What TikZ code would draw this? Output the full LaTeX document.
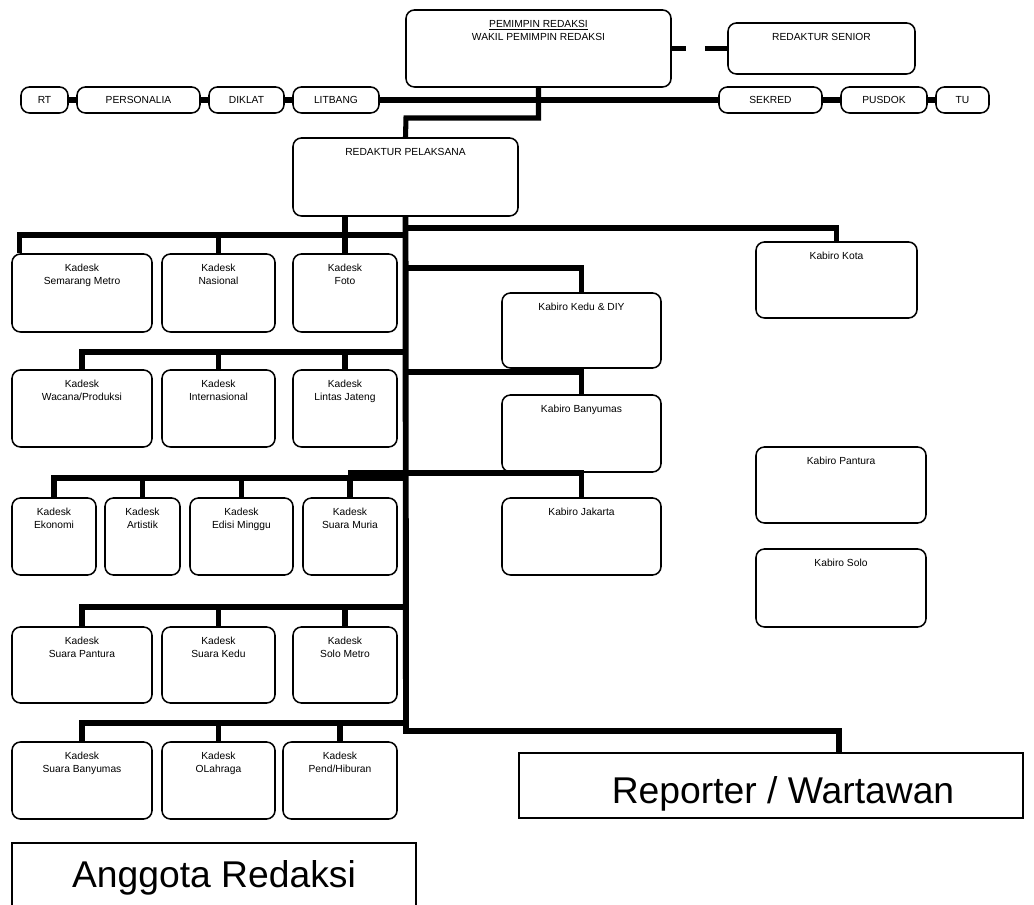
\documentclass[tikz,border=0pt]{standalone}
\usepackage{fontspec}
\setmainfont{Liberation Sans}
\usetikzlibrary{fit}

\begin{document}
\begin{tikzpicture}[
    x=0.025cm, y=-0.025cm,
    unit/.style={draw, line width=1.1pt, rounded corners=6pt, inner sep=0pt},
    caption/.style={anchor=north, inner sep=0pt, yshift=-0.26cm, align=center, font=\fontsize{7.3}{9.2}\selectfont},
    mid/.style={inner sep=0pt, font=\fontsize{7.3}{9.2}\selectfont},
    bigbox/.style={draw, line width=0.8pt, inner sep=0pt},
    bigtext/.style={inner sep=0pt, font=\fontsize{26.5}{30}\selectfont},
    link/.style={line width=3.6pt},
    trunk/.style={line width=4.2pt}
  ]
  \useasboundingbox (0,0) rectangle (1034,905);
  \clip (0,0) rectangle (1034,905);

  % pimpinan
  \node[unit, fit={(406,10) (671,87)}, label={[caption]north:\underline{PEMIMPIN REDAKSI}\\WAKIL PEMIMPIN REDAKSI}] (pemimpin) {};
  \node[unit, fit={(728,23) (915,74)}, label={[caption]north:REDAKTUR SENIOR}] (senior) {};
  \node[unit, fit={(21,87) (68,113)}, label={[mid]center:RT}] (rt) {};
  \node[unit, fit={(77,87) (200,113)}, label={[mid]center:PERSONALIA}] (personalia) {};
  \node[unit, fit={(209,87) (284,113)}, label={[mid]center:DIKLAT}] (diklat) {};
  \node[unit, fit={(293,87) (379,113)}, label={[mid]center:LITBANG}] (litbang) {};
  \node[unit, fit={(719,87) (822,113)}, label={[mid]center:SEKRED}] (sekred) {};
  \node[unit, fit={(841,87) (927,113)}, label={[mid]center:PUSDOK}] (pusdok) {};
  \node[unit, fit={(936,87) (989,113)}, label={[mid]center:TU}] (tu) {};
  \node[unit, fit={(293,138) (518,216)}, label={[caption]north:REDAKTUR PELAKSANA}] (rp) {};

  % kadesk
  \node[unit, fit={(12,254) (152,332)}, label={[caption]north:Kadesk\\Semarang Metro}] (semarang) {};
  \node[unit, fit={(162,254) (275,332)}, label={[caption]north:Kadesk\\Nasional}] (nasional) {};
  \node[unit, fit={(293,254) (397,332)}, label={[caption]north:Kadesk\\Foto}] (foto) {};
  \node[unit, fit={(12,370) (152,447)}, label={[caption]north:Kadesk\\Wacana/Produksi}] (wacana) {};
  \node[unit, fit={(162,370) (275,447)}, label={[caption]north:Kadesk\\Internasional}] (internas) {};
  \node[unit, fit={(293,370) (397,447)}, label={[caption]north:Kadesk\\Lintas Jateng}] (lintas) {};
  \node[unit, fit={(12,498) (96,575)}, label={[caption]north:Kadesk\\Ekonomi}] (ekonomi) {};
  \node[unit, fit={(105,498) (180,575)}, label={[caption]north:Kadesk\\Artistik}] (artistik) {};
  \node[unit, fit={(190,498) (293,575)}, label={[caption]north:Kadesk\\Edisi Minggu}] (edisi) {};
  \node[unit, fit={(303,498) (397,575)}, label={[caption]north:Kadesk\\Suara Muria}] (muria) {};
  \node[unit, fit={(12,627) (152,703)}, label={[caption]north:Kadesk\\Suara Pantura}] (spantura) {};
  \node[unit, fit={(162,627) (275,703)}, label={[caption]north:Kadesk\\Suara Kedu}] (skedu) {};
  \node[unit, fit={(293,627) (397,703)}, label={[caption]north:Kadesk\\Solo Metro}] (solometro) {};
  \node[unit, fit={(12,742) (152,819)}, label={[caption]north:Kadesk\\Suara Banyumas}] (sbanyumas) {};
  \node[unit, fit={(162,742) (275,819)}, label={[caption]north:Kadesk\\OLahraga}] (olahraga) {};
  \node[unit, fit={(283,742) (397,819)}, label={[caption]north:Kadesk\\Pend/Hiburan}] (hiburan) {};

  % kabiro
  \node[unit, fit={(756,242) (917,318)}, label={[caption]north:Kabiro Kota}] (kota) {};
  \node[unit, fit={(502,293) (661,368)}, label={[caption]north:Kabiro Kedu \& DIY}] (kedu) {};
  \node[unit, fit={(502,395) (661,472)}, label={[caption]north:Kabiro Banyumas}] (banyumas) {};
  \node[unit, fit={(502,498) (661,575)}, label={[caption]north:Kabiro Jakarta}] (jakarta) {};
  \node[unit, fit={(756,447) (926,523)}, label={[caption]north:Kabiro Pantura}] (pantura) {};
  \node[unit, fit={(756,549) (926,627)}, label={[caption]north:Kabiro Solo}] (solo) {};

  \node[bigbox, fit={(519,753) (1023,818)}, label={[bigtext, xshift=0.3cm, yshift=-0.22cm]center:Reporter / Wartawan}] (reporter) {};
  \node[bigbox, fit={(12,843) (416,913)}, label={[bigtext]center:Anggota Redaksi}] (anggota) {};

  % garis
  \coordinate (elbow) at (406,118);
  \coordinate (base) at (406,731);
  \coordinate (r1) at (406,235);
  \coordinate (r2) at (406,352);
  \coordinate (r3) at (406,478);
  \coordinate (r4) at (406,607);
  \coordinate (r5) at (406,723);
  \coordinate (k1) at (406,228);
  \coordinate (k2) at (406,268);
  \coordinate (k3) at (406,372);
  \coordinate (k4) at (348,473);

  \draw[link, dash pattern=on 10pt off 13.5pt on 17pt] (pemimpin.east) -- (senior.west);
  \draw[link] (rt.east) -- (personalia.west);
  \draw[link] (personalia.east) -- (diklat.west);
  \draw[link] (diklat.east) -- (litbang.west);
  \draw[link] (litbang.east) -- (sekred.west);
  \draw[link] (sekred.east) -- (pusdok.west);
  \draw[link] (pusdok.east) -- (tu.west);
  \draw[link] (pemimpin.south) |- (elbow) -- (rp.north);
  \draw[trunk] (rp.south) -- (base) -| ([xshift=1.7cm]reporter.north);

  \draw[link] (r1) -| ([xshift=0.2cm]semarang.north west);
  \draw[link] (r1 -| nasional.north) -- (nasional.north);
  \draw[link] (rp.south -| foto.north) -- (foto.north);
  \draw[link] (r2) -| (wacana.north);
  \foreach \b in {internas, lintas}
    \draw[link] (r2 -| \b.north) -- (\b.north);
  \draw[link] (r3) -| (ekonomi.north);
  \foreach \b in {artistik, edisi, muria}
    \draw[link] (r3 -| \b.north) -- (\b.north);
  \draw[link] (r4) -| (spantura.north);
  \foreach \b in {skedu, solometro}
    \draw[link] (r4 -| \b.north) -- (\b.north);
  \draw[link] (r5) -| (sbanyumas.north);
  \foreach \b in {olahraga, hiburan}
    \draw[link] (r5 -| \b.north) -- (\b.north);

  \draw[link] (k1) -| (kota.north);
  \draw[link] (k2) -| (kedu.north);
  \draw[link] (k3) -| (banyumas.north);
  \draw[link] (k4) -| (jakarta.north);
\end{tikzpicture}
\end{document}
